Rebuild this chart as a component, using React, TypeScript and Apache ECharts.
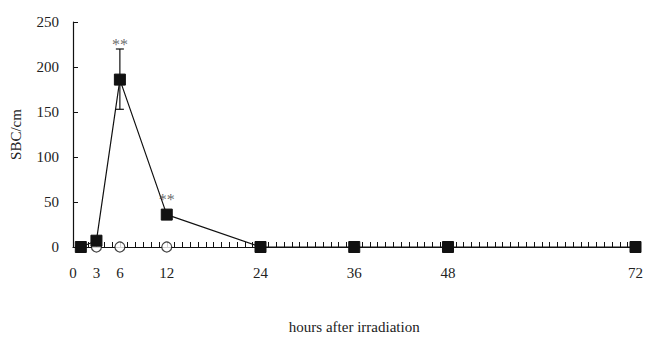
import React, { useEffect, useRef } from "react";
import * as echarts from "echarts";

const hours = [1, 3, 6, 12, 24, 36, 48, 72];
const irradiated = [0, 7, 186, 36, 0, 0, 0, 0];
const controlHours = [1, 3, 6, 12, 24, 36, 48, 72];
const control = [0, 0, 0, 0, 0, 0, 0, 0];
const errorBars = [[6, 153, 220]];
const stars = [[6, 225], [12, 53]];
const xTickLabels = [0, 3, 6, 12, 24, 36, 48, 72];

export default function App() {
  const ref = useRef<HTMLDivElement>(null);
  useEffect(() => {
    const chart = echarts.init(ref.current!, null, { renderer: "svg" });
    const font = "Liberation Serif";
    chart.setOption({
      animation: false,
      backgroundColor: "#fff",
      grid: { left: 66, right: 9, top: 22, bottom: 82 },
      xAxis: {
        type: "value",
        min: 0,
        max: 72,
        interval: 1,
        name: "hours after irradiation",
        nameLocation: "middle",
        nameGap: 72,
        nameTextStyle: { fontFamily: font, fontSize: 15, color: "#222" },
        axisLine: { lineStyle: { color: "#111", width: 1.2 } },
        axisTick: { inside: true, length: 5, lineStyle: { color: "#111" } },
        axisLabel: {
          fontFamily: font,
          fontSize: 15,
          color: "#222",
          margin: 18,
          showMinLabel: true,
          showMaxLabel: true,
          interval: 0,
          formatter: (v: number) => (xTickLabels.includes(v) ? String(v) : ""),
        },
        splitLine: { show: false },
      },
      yAxis: {
        type: "value",
        min: 0,
        max: 250,
        interval: 50,
        name: "SBC/cm",
        nameLocation: "middle",
        nameGap: 50,
        nameTextStyle: { fontFamily: font, fontSize: 15, color: "#222" },
        axisLine: { show: true, lineStyle: { color: "#111", width: 1.2 } },
        axisTick: { show: true, inside: true, length: 5, lineStyle: { color: "#111" } },
        axisLabel: { fontFamily: font, fontSize: 15, color: "#222", margin: 14 },
        splitLine: { show: false },
      },
      series: [
        {
          type: "custom",
          z: 1,
          renderItem: (params: any, api: any) => {
            const x = api.value(0);
            const lo = api.coord([x, api.value(1)]);
            const hi = api.coord([x, api.value(2)]);
            const w = 4;
            const style = { stroke: "#111", lineWidth: 1.2 };
            return {
              type: "group",
              children: [
                { type: "line", shape: { x1: lo[0], y1: lo[1], x2: hi[0], y2: hi[1] }, style },
                { type: "line", shape: { x1: hi[0] - w, y1: hi[1], x2: hi[0] + w, y2: hi[1] }, style },
                { type: "line", shape: { x1: lo[0] - w, y1: lo[1], x2: lo[0] + w, y2: lo[1] }, style },
              ],
            };
          },
          data: errorBars,
        },
        {
          type: "scatter",
          z: 2,
          symbol: "circle",
          symbolSize: 10,
          itemStyle: { color: "#fff", borderColor: "#111", borderWidth: 1.2 },
          data: controlHours.map((h, i) => [h, control[i]]),
        },
        {
          type: "line",
          z: 3,
          symbol: "rect",
          symbolSize: 11,
          lineStyle: { color: "#111", width: 1.2 },
          itemStyle: { color: "#111", borderColor: "#111" },
          data: hours.map((h, i) => [h, irradiated[i]]),
        },
        {
          type: "scatter",
          z: 4,
          symbolSize: 0,
          itemStyle: { color: "#444" },
          label: {
            show: true,
            position: "inside",
            formatter: "**",
            fontFamily: font,
            fontSize: 16,
            color: "#444",
            textBorderWidth: 0,
          },
          data: stars,
        },
      ],
    });
    return () => chart.dispose();
  }, []);
  return (
    <div
      ref={ref}
      style={{ position: "fixed", left: 0, top: 0, width: 646, height: 339 }}
    />
  );
}
